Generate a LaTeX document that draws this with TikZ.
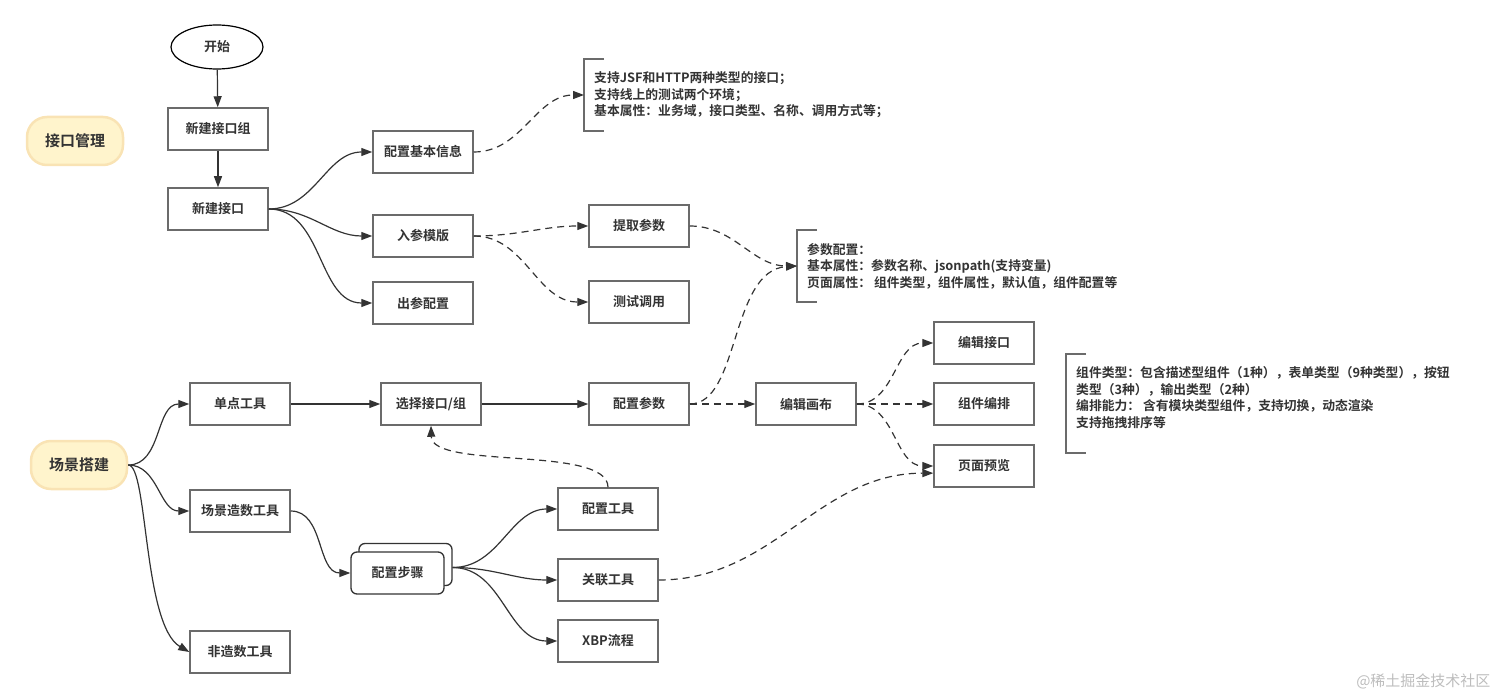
\documentclass[tikz,border=0pt]{standalone}
\usepackage{fontspec}
\setmainfont{Noto Sans CJK SC}[BoldFont={Noto Sans CJK SC Bold}]
\usepackage{tikz}
\usetikzlibrary{arrows.meta,shapes.geometric}
\definecolor{shenHui}{HTML}{333333}
\definecolor{bianHui}{HTML}{6B6B6B}
\definecolor{danHuang}{HTML}{FFF4CC}
\definecolor{chengBian}{HTML}{F9E3B4}
\definecolor{shuiYin}{HTML}{BDBDBD}
\tikzset{
  kuang/.style={draw=bianHui,line width=1.5pt,fill=white,minimum width=100pt,minimum height=42pt,
    inner sep=0pt,font=\bfseries\fontsize{13}{16}\selectfont,text=shenHui},
  zhuti/.style={draw=chengBian,line width=2.5pt,fill=danHuang,rounded corners=20pt,
    minimum width=96pt,minimum height=48pt,font=\bfseries\fontsize{15}{18}\selectfont,text=shenHui},
  buzhou/.style={draw=shenHui,line width=1.3pt,fill=white,rounded corners=6pt,minimum width=93pt,
    minimum height=42pt,inner sep=0pt,font=\bfseries\fontsize{13}{16}\selectfont,text=shenHui},
  zhushi/.style={anchor=west,align=left,inner xsep=10pt,inner ysep=0pt,
    font=\bfseries\fontsize{12.8}{16.5}\selectfont,text=shenHui},
  kuohao/.style={draw=bianHui,line width=1.5pt},
  lian/.style={draw=shenHui,line width=1.2pt,-{Triangle[length=11pt,width=8pt]}},
  xulian/.style={lian,dash pattern=on 7pt off 5pt},
}
\begin{document}
\begin{tikzpicture}[x=1pt,y=-1pt]
\useasboundingbox (0,0) rectangle (1500,698);

% 接口管理
\node[zhuti] (jiekouGuanli) at (75,141) {接口管理};
\node[draw=black,line width=1.2pt,ellipse,minimum width=92pt,minimum height=44pt,
  font=\bfseries\fontsize{13}{16}\selectfont,text=shenHui] (kaishi) at (217,47) {开始};
\node[kuang] (xinjianZu) at (218,129) {新建接口组};
\node[kuang] (xinjian) at (218,209) {新建接口};
\node[kuang] (jibenXinxi) at (423,152) {配置基本信息};
\node[kuang] (rucan) at (423,236) {入参模版};
\node[kuang] (chucan) at (423,303) {出参配置};
\node[kuang] (tiqu) at (639,226) {提取参数};
\node[kuang] (ceshi) at (639,302) {测试调用};

\node[zhushi,minimum height=72pt] (shuomingA) at (584,95)
  {支持JSF和HTTP两种类型的接口；\\支持线上的测试两个环境；\\基本属性：业务域，接口类型、名称、调用方式等；};
\draw[kuohao] ([xshift=20pt]shuomingA.north west) -| (shuomingA.south west) -- ++(20,0);
\node[zhushi,minimum height=72pt] (shuomingB) at (797,266)
  {参数配置：\\基本属性：参数名称、jsonpath(支持变量)\\页面属性： 组件类型，组件属性，默认值，组件配置等};
\draw[kuohao] ([xshift=20pt]shuomingB.north west) -| (shuomingB.south west) -- ++(20,0);

% 场景搭建
\node[zhuti] (changjing) at (79,465) {场景搭建};
\node[kuang] (dandian) at (240,404) {单点工具};
\node[kuang] (zaoshu) at (240,511) {场景造数工具};
\node[kuang] (feizaoshu) at (240,652) {非造数工具};
\node[kuang] (xuanze) at (431,404) {选择接口/组};
\node[kuang] (peizhiCanshu) at (639,404) {配置参数};
\node[kuang] (huabu) at (806,404) {编辑画布};
\node[kuang] (bianjiJiekou) at (984,343) {编辑接口};
\node[kuang] (bianpai) at (984,404) {组件编排};
\node[kuang] (yulan) at (984,466) {页面预览};
\node[buzhou] (buzhouBei) at (405.5,564.5) {};
\node[buzhou] (buzhou) at (397.5,573) {配置步骤};
\node[kuang] (peizhiGongju) at (608,509) {配置工具};
\node[kuang] (guanlian) at (608,580) {关联工具};
\node[kuang] (xbp) at (608,641) {XBP流程};

\node[zhushi,minimum height=99pt] (shuomingC) at (1066,397.5)
  {组件类型：包含描述型组件（1种），表单类型（9种类型），按钮\\类型（3种），输出类型（2种）\\编排能力： 含有模块类型组件，支持切换，动态渲染\\支持拖拽排序等};
\draw[kuohao] ([xshift=20pt,yshift=-6pt]shuomingC.north west) -| ([yshift=-6pt]shuomingC.south west) -- ++(20,0);

\node[text=shuiYin,font=\fontsize{15}{18}\selectfont,anchor=east] (shuiyin) at (1494,681) {@稀土掘金技术社区};

% connectors
\draw[lian] (kaishi) -- (xinjianZu);
\draw[lian] (xinjianZu) -- (xinjian);
\draw[lian] (xinjian.east) to[out=0,in=180] (jibenXinxi.west);
\draw[lian] (xinjian.east) to[out=0,in=180] (rucan.west);
\draw[lian] (xinjian.east) to[out=0,in=180] (chucan.west);
\draw[xulian] (jibenXinxi.east) to[out=0,in=180] (shuomingA.west);
\draw[xulian] (rucan.east) to[out=0,in=180] (tiqu.west);
\draw[xulian] (rucan.east) to[out=0,in=180] (ceshi.west);
\draw[xulian] (tiqu.east) to[out=0,in=180] (shuomingB.west);
\draw[xulian] (peizhiCanshu.east) .. controls (740,404) and (730,270) .. (shuomingB.west);

\draw[lian] (changjing.east) to[out=0,in=180] (dandian.west);
\draw[lian] (changjing.east) to[out=0,in=180] (zaoshu.west);
\draw[lian] (changjing.east) .. controls (148,465) and (143,625) .. (feizaoshu.west);
\draw[lian] (dandian) -- (xuanze);
\draw[lian] (xuanze) -- (peizhiCanshu);
\draw[xulian] (peizhiCanshu) -- (huabu);
\draw[xulian] (huabu.east) to[out=0,in=180] (bianjiJiekou.west);
\draw[xulian] (huabu) -- (bianpai);
\draw[xulian] (huabu.east) to[out=0,in=180] (yulan.west);
\draw[lian] (zaoshu.east) to[out=0,in=180] (buzhou.west);
\draw[lian] ([yshift=-3pt]buzhouBei.east) to[out=0,in=180] (peizhiGongju.west);
\draw[lian] ([yshift=-3pt]buzhouBei.east) to[out=0,in=180] (guanlian.west);
\draw[lian] ([yshift=-3pt]buzhouBei.east) to[out=0,in=180] (xbp.west);
\draw[xulian] (peizhiGongju.north) .. controls (608,445) and (432,470) .. (xuanze.south);
\draw[xulian] (guanlian.east) to[out=0,in=180] (yulan.188);
\end{tikzpicture}
\end{document}
